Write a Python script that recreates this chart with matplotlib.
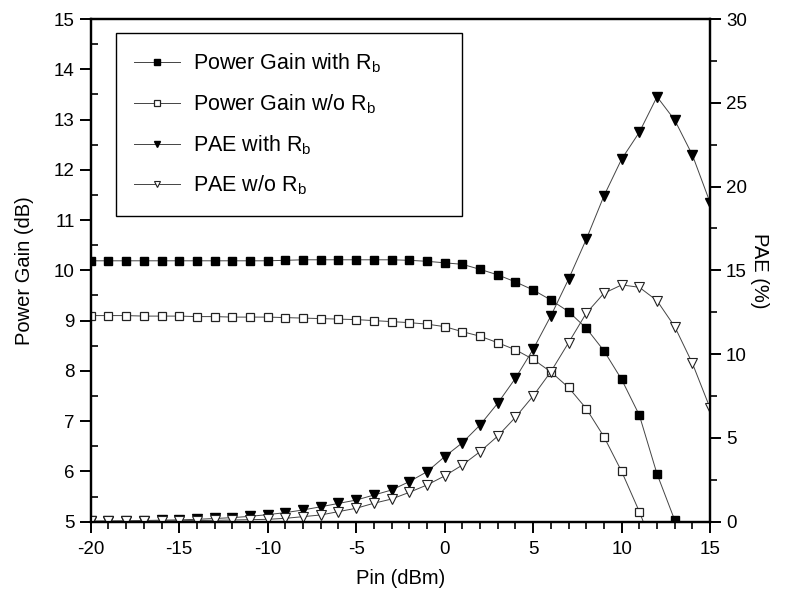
import numpy as np
import matplotlib
matplotlib.use("Agg")
import matplotlib.pyplot as plt
from matplotlib.ticker import MultipleLocator

plt.rcParams['font.family'] = ['Liberation Sans', 'DejaVu Sans']
plt.rcParams['mathtext.default'] = 'regular'
plt.rcParams['axes.unicode_minus'] = False

# données
pin = np.arange(-20, 16)

pin_gain_with = np.arange(-20, 14)
gain_with = [10.19, 10.19, 10.19, 10.19, 10.19, 10.19, 10.19, 10.19, 10.19, 10.19,
             10.19, 10.2, 10.21, 10.21, 10.21, 10.21, 10.21, 10.21, 10.2, 10.18,
             10.15, 10.12, 10.02, 9.91, 9.77, 9.61, 9.41, 9.18, 8.85, 8.40,
             7.83, 7.12, 5.95, 5.03]

pin_gain_wo = np.arange(-20, 13)
gain_wo = [9.10, 9.10, 9.10, 9.09, 9.09, 9.09, 9.08, 9.08, 9.07, 9.07,
           9.07, 9.06, 9.05, 9.04, 9.03, 9.02, 9.00, 8.98, 8.96, 8.93,
           8.88, 8.78, 8.69, 8.56, 8.42, 8.23, 7.98, 7.67, 7.25, 6.69,
           6.00, 5.20, 4.30]

pae_with = [0.03, 0.04, 0.05, 0.07, 0.09, 0.11, 0.14, 0.19, 0.24, 0.32,
            0.42, 0.54, 0.70, 0.89, 1.09, 1.29, 1.59, 1.89, 2.39, 2.98,
            3.88, 4.71, 5.77, 7.07, 8.56, 10.29, 12.28, 14.47, 16.85, 19.44,
            21.64, 23.24, 25.36, 23.97, 21.88, 19.04]

pae_wo = [0.02, 0.03, 0.03, 0.04, 0.05, 0.06, 0.07, 0.08, 0.10, 0.12,
          0.14, 0.20, 0.30, 0.40, 0.60, 0.80, 1.10, 1.35, 1.75, 2.19,
          2.73, 3.38, 4.18, 5.11, 6.23, 7.50, 8.95, 10.68, 12.44, 13.63,
          14.13, 13.99, 13.19, 11.64, 9.45, 6.77]

fig = plt.figure(figsize=(7.87, 6.04), dpi=100)
ax = fig.add_axes([0.1153, 0.1363, 0.787, 0.8322])
ax2 = ax.twinx()

lc = '#444444'
l1, = ax.plot(pin_gain_with, gain_with, '-', color=lc, lw=0.7, marker='s', ms=6.3,
              mfc='black', mec='black', label='Power Gain with R$_b$')
l2, = ax.plot(pin_gain_wo, gain_wo, '-', color=lc, lw=0.7, marker='s', ms=6.3,
              mfc='white', mec='#222222', mew=0.9, label='Power Gain w/o R$_b$')
l3, = ax2.plot(pin, pae_with, '-', color=lc, lw=0.7, marker='v', ms=7.5,
               mfc='black', mec='black', label='PAE with R$_b$')
l4, = ax2.plot(pin, pae_wo, '-', color=lc, lw=0.7, marker='v', ms=7.5,
               mfc='white', mec='#222222', mew=0.8, label='PAE w/o R$_b$')

ax.set_xlim(-20, 15)
ax.set_ylim(5, 15)
ax2.set_ylim(0, 30)

ax.xaxis.set_major_locator(MultipleLocator(5))
ax.xaxis.set_minor_locator(MultipleLocator(1))
ax.yaxis.set_major_locator(MultipleLocator(1))
ax.yaxis.set_minor_locator(MultipleLocator(0.5))
ax2.yaxis.set_major_locator(MultipleLocator(5))
ax2.yaxis.set_minor_locator(MultipleLocator(2.5))

for a in (ax, ax2):
    for s in a.spines.values():
        s.set_linewidth(1.6)

ax.tick_params(axis='x', which='major', direction='out', length=8, width=1.4, labelsize=13.5, pad=6)
ax.tick_params(axis='x', which='minor', direction='out', length=5, width=1.2)
ax.tick_params(axis='y', which='major', direction='out', length=8, width=1.4, labelsize=13.5)
ax.tick_params(axis='y', which='minor', direction='in', length=5, width=1.2)
ax2.tick_params(axis='y', which='major', direction='out', length=8, width=1.4, labelsize=13.5)
ax2.tick_params(axis='y', which='minor', direction='out', length=5, width=1.2)

ax.set_xlabel('Pin (dBm)', fontsize=14.5, labelpad=8)
ax.set_ylabel('Power Gain (dB)', fontsize=14.5, labelpad=14)
ax2.set_ylabel('PAE (%)', fontsize=14.5, rotation=270, labelpad=16)

leg = ax.legend(handles=[l1, l2, l3, l4], loc='upper left',
                bbox_to_anchor=(0.041, 0.6940, 0.5587, 0.278), mode='expand',
                borderaxespad=0, fontsize=15.5, markerscale=0.6, handlelength=2.1,
                handletextpad=0.6, labelspacing=0.8, borderpad=0.85,
                fancybox=False, edgecolor='black', framealpha=1)
leg.get_frame().set_linewidth(1.0)
leg.set_zorder(10)

fig.savefig('out.png', dpi=100)
